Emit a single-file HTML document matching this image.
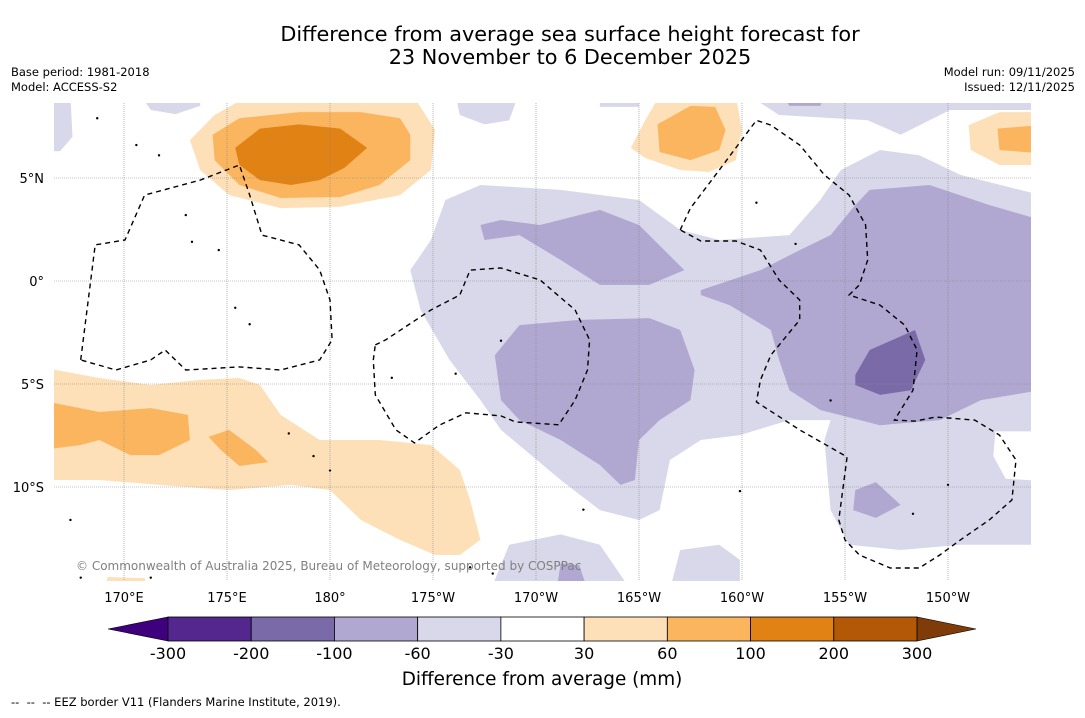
<!DOCTYPE html>
<html><head><meta charset="utf-8"><style>
body{margin:0;background:#fff;}
svg text{font-family:"DejaVu Sans","Liberation Sans",sans-serif;white-space:pre;}
</style></head><body>
<svg id="chart" width="1085" height="713" xmlns="http://www.w3.org/2000/svg">
<rect width="1085" height="713" fill="#fff"/>
<text x="570" y="41" font-size="20.8" text-anchor="middle">Difference from average sea surface height forecast for</text>
<text x="570" y="64" font-size="20.8" text-anchor="middle">23 November to 6 December 2025</text>
<text x="11" y="76" font-size="11.5">Base period: 1981-2018</text>
<text x="11" y="91" font-size="11.5">Model: ACCESS-S2</text>
<text x="1075" y="76" font-size="11.5" text-anchor="end">Model run: 09/11/2025</text>
<text x="1075" y="91" font-size="11.5" text-anchor="end">Issued: 12/11/2025</text>
<defs><clipPath id="mapclip"><rect x="54" y="103" width="977" height="478"/></clipPath></defs>
<g id="map" clip-path="url(#mapclip)"></g>
<g id="grid"></g>
<g id="eez" clip-path="url(#mapclip)"></g>
<g id="axes"></g>
<text x="76" y="570" font-size="12" fill="#808080">© Commonwealth of Australia 2025, Bureau of Meteorology, supported by COSPPac</text>
<g id="cbar"></g>
<text x="542" y="685" font-size="18.4" text-anchor="middle">Difference from average (mm)</text>
<text x="11" y="706" font-size="11.5">--  --  -- EEZ border V11 (Flanders Marine Institute, 2019).</text>
</svg>
<script>
const lonTicks=[170,175,180,185,190,195,200,205,210];
const lonLabels=["170°E","175°E","180°","175°W","170°W","165°W","160°W","155°W","150°W"];
const latTicks=[5,0,-5,-10];
const latLabels=["5°N","0°","5°S","10°S"];
const levels=[-300,-200,-100,-60,-30,30,60,100,200,300];
const levelColors=["#54278f","#7a6aa8","#b0a8d0","#d8d8ea","#ffffff","#fde0b8","#fbb55f","#e08214","#b35806"];
const contourLevels=[-45,-45,-45,-45,-45,-45,-45,-45,-80,-80,-80,-80,-80,-80,-150,45,80,150,45,80,45,80,45,80,80,45,0];
// contour fill polygons [lon(°E),lat]
const contours=[
[[166,9],[167.4,9],[167.5,7.0],[166.9,6.3],[166,6.3]],
[[184.9,1.99],[185.6,3.93],[187.3,4.66],[191.2,4.42],[195,3.93],[197,2.48],[198.9,1.99],[202.3,2.23],[203.8,3.93],[204.8,5.39],[206.7,6.36],[208.6,6.1],[210.6,5.15],[214.5,4.17],[214.5,-12.8],[210.6,-12.8],[207.7,-13.06],[205.2,-12.8],[204.3,-11.12],[204,-7.72],[204.3,-6.75],[202.3,-6.75],[199.9,-7.48],[198,-7.72],[196.5,-8.69],[196,-11.12],[195,-11.6],[193.1,-11.12],[191.2,-9.66],[188.3,-7.23],[187.3,-5.78],[185.8,-3.83],[184.4,-1.41],[183.9,0.53]],
[[200.9,9],[200.9,8.64],[201.8,8.06],[206.1,7.8],[207.7,7.1],[210.1,8.3],[214.5,8.3],[214.5,9]],
[[186.1,9],[186.3,8.06],[187.5,7.6],[188.7,7.8],[189.0,8.64],[189.0,9]],
[[170.8,9],[171.3,8.3],[172.5,8.1],[173.7,8.5],[173.7,9]],
[[193.1,9],[193.1,8.45],[195,8.45],[195,9]],
[[187.8,-15],[188.7,-12.8],[191.2,-12.3],[193.1,-12.8],[194.6,-15]],
[[196.5,-15],[197,-13.06],[198.9,-12.8],[199.9,-13.54],[199.9,-15]],
[[187.3,2.72],[188.3,2.96],[190.2,2.72],[193.1,3.45],[195,2.72],[197.2,0.53],[195.5,-0.19],[193.1,-0.19],[191.2,1.02],[189.2,2.23],[187.5,1.99]],
[[188,-3.6],[189.2,-2.14],[192.1,-1.89],[195.5,-1.8],[197,-2.38],[197.7,-4.32],[197.5,-5.78],[196,-6.75],[195,-7.72],[194.8,-9.66],[194.1,-9.9],[193.1,-8.93],[191.2,-7.72],[189.2,-6.75],[188.3,-5.78]],
[[198,-0.44],[200.9,0.53],[202.8,1.5],[204.3,2.23],[205.5,3.69],[206.2,4.42],[209.1,4.66],[212,3.69],[214.5,2.96],[214.5,-5.3],[211.6,-5.78],[209.6,-6.75],[206.7,-7.0],[203.8,-6.26],[202.3,-5.3],[201.8,-3.83],[201.4,-2.38],[199.4,-1.17],[198,-0.68]],
[[205.5,-10.15],[206.5,-9.76],[207.7,-10.87],[206.5,-11.5],[205.4,-11.12]],
[[191,-15],[191.2,-13.7],[192.1,-13.8],[192.5,-15]],
[[202,9],[202.3,8.5],[203.8,8.5],[204,9]],
[[205.5,-4.56],[206.2,-3.35],[208.4,-2.38],[208.9,-3.83],[208.2,-5.3],[206.7,-5.53],[205.5,-5.05]],
[[173.2,6.84],[174.4,8.06],[175.9,8.9],[184.1,8.9],[185.1,7.33],[184.9,5.39],[183.4,4.17],[180.5,3.6],[177.6,3.54],[175.1,4.17],[173.7,5.39]],
[[174.3,7.1],[175.6,7.9],[178.5,8.2],[181.5,8.2],[183.4,7.9],[183.9,7.1],[183.9,5.87],[182.4,4.66],[180.5,4.08],[177.6,4.03],[175.6,4.66],[174.4,5.87]],
[[175.4,6.46],[176.6,7.4],[178.5,7.6],[180.5,7.4],[181.8,6.46],[180.7,5.49],[179.5,4.9],[178.1,4.66],[176.6,4.9],[175.6,5.63]],
[[194.6,6.46],[195.3,7.8],[196,9],[199.7,9],[200,7.33],[199.7,5.87],[198.4,5.29],[197,5.39],[195.3,5.97]],
[[195.9,7.6],[197.5,8.5],[198.7,8.45],[199.2,7.33],[198.9,6.36],[197.5,5.87],[196,6.26]],
[[211,7.57],[212.5,8.2],[214.5,8.2],[214.5,5.63],[212.5,5.63],[211.1,6.36]],
[[212.4,7.4],[214.5,7.57],[214.5,6.2],[212.5,6.36]],
[[166,-4.2],[168.8,-4.71],[171.3,-5.05],[173.7,-4.8],[175.6,-4.71],[176.6,-5.05],[177.6,-6.5],[179.5,-7.72],[182.4,-7.72],[184.9,-7.96],[186.3,-9.17],[186.8,-10.63],[187.3,-12.57],[186.3,-13.3],[185.1,-13.3],[183.4,-12.57],[181.5,-11.6],[180,-10.15],[178.1,-9.9],[175.1,-10.15],[171.7,-9.9],[168.8,-9.66],[166,-9.66]],
[[166,-5.8],[168.8,-6.36],[171.3,-6.17],[173.1,-6.5],[173.2,-7.72],[171.7,-8.45],[170.3,-8.45],[168.8,-7.72],[167.9,-7.96],[166,-8.2]],
[[174.1,-7.57],[175.1,-7.23],[176.4,-8.2],[177,-8.79],[175.6,-8.98],[174.7,-8.2]],
[[169.1,-15],[169.2,-14.37],[171,-14.42],[171.2,-15]],
[[212.3,-7.3],[214.5,-7.3],[214.5,-9.7],[212.8,-9.6],[212.2,-8.5]]
];
const eezLines=[
[[167.9,-3.83],[168.6,1.75],[170.05,1.99],[171,4.17],[173.7,4.9],[175.6,5.63],[176.1,4.17],[176.7,2.23],[178.5,1.75],[179.5,0.53],[180,-0.92],[180.1,-2.86],[179.5,-3.83],[177.6,-4.32],[175.6,-4.17],[173,-4.32],[172,-3.35],[171.3,-3.83],[169.6,-4.32],[167.9,-3.83]],
[[182.2,-3.1],[182.7,-2.86],[184.9,-1.41],[186.3,-0.68],[186.8,0.53],[188.3,0.63],[190.2,0.05],[191.9,-1.41],[192.6,-2.86],[192.5,-4.32],[191.9,-5.78],[191.1,-6.98],[189,-6.84],[188.3,-6.55],[186.6,-6.4],[185.3,-7.0],[184.1,-7.86],[183.2,-7.23],[182.2,-5.53],[182.1,-3.83],[182.2,-3.1]],
[[197,2.48],[197.5,3.54],[198.9,5.39],[200.7,7.8],[201.4,7.57],[202.8,6.6],[204,5.15],[205.2,4.17],[206,2.72],[206.1,1.02],[205.7,-0.19],[205.2,-0.68],[206.7,-1.17],[207.9,-2.14],[208.5,-3.35],[208.3,-5.3],[207.4,-6.75],[208.4,-6.8],[209.4,-6.6],[211.3,-6.75],[212.5,-7.48],[213.3,-8.69],[213.1,-10.63],[212,-11.6],[210.6,-12.57],[209.6,-13.3],[208.6,-13.93],[207.2,-13.93],[205.7,-13.3],[205,-12.57],[204.7,-11.6],[205.1,-8.54],[202.8,-7.23],[200.7,-5.87],[200.9,-4.8],[201.4,-3.6],[202.8,-1.89],[202.8,-0.92],[201.8,0.05],[200.9,1.5],[199.7,1.94],[198,1.94],[197,2.48]]
];
const islands=[[168.7,7.9],[170.6,6.6],[171.7,6.1],[173,3.2],[173.3,1.9],[174.6,1.5],[175.4,-1.3],[176.1,-2.1],[178,-7.4],[179.2,-8.5],[180,-9.2],[183,-4.7],[186.1,-4.5],[188.3,-2.9],[192.3,-11.1],[199.9,-10.2],[200.7,3.8],[202.6,1.8],[204.3,-5.8],[208.3,-11.3],[210,-9.9],[167.4,-11.6],[167.9,-14.4],[171.3,-14.4],[186.8,-13.9],[187.9,-14.2]];

const NS='http://www.w3.org/2000/svg';
const X0=54,X1=1031,Y0=103,Y1=581;
const xs=lon=>124+(lon-170)*20.6;
const ys=lat=>281-lat*20.6;
const colorFor=v=>{for(let i=0;i<levels.length-1;i++){if(v>=levels[i]&&v<levels[i+1])return levelColors[i];}return levelColors[levelColors.length-1];};
const pts=poly=>poly.map(p=>xs(p[0]).toFixed(1)+','+ys(p[1]).toFixed(1)).join(' ');
const map=document.getElementById('map');
contours.forEach((poly,i)=>{
  const p=document.createElementNS(NS,'polygon');
  p.setAttribute('points',pts(poly));
  p.setAttribute('fill',colorFor(contourLevels[i]));
  
  
  map.appendChild(p);
});
islands.forEach(d=>{
  const c=document.createElementNS(NS,'circle');
  c.setAttribute('cx',xs(d[0]));c.setAttribute('cy',ys(d[1]));c.setAttribute('r',1.2);c.setAttribute('fill','#000');
  
  
  map.appendChild(c);
});
const grid=document.getElementById('grid');
lonTicks.forEach(l=>{
  const ln=document.createElementNS(NS,'line');
  ln.setAttribute('x1',xs(l));ln.setAttribute('x2',xs(l));ln.setAttribute('y1',Y0);ln.setAttribute('y2',Y1);
  ln.setAttribute('stroke','#888');ln.setAttribute('stroke-width','0.6');ln.setAttribute('stroke-dasharray','1,1');
  
  
  grid.appendChild(ln);
});
latTicks.forEach(l=>{
  const ln=document.createElementNS(NS,'line');
  ln.setAttribute('x1',X0);ln.setAttribute('x2',X1);ln.setAttribute('y1',ys(l));ln.setAttribute('y2',ys(l));
  ln.setAttribute('stroke','#888');ln.setAttribute('stroke-width','0.6');ln.setAttribute('stroke-dasharray','1,1');
  
  
  grid.appendChild(ln);
});
const eez=document.getElementById('eez');
eezLines.forEach(line=>{
  const p=document.createElementNS(NS,'polyline');
  p.setAttribute('points',pts(line));p.setAttribute('fill','none');p.setAttribute('stroke','#000');
  p.setAttribute('stroke-width','1.4');p.setAttribute('stroke-dasharray','5,4');
  
  
  eez.appendChild(p);
});
const axes=document.getElementById('axes');
lonTicks.forEach((l,i)=>{
  const t=document.createElementNS(NS,'text');
  t.setAttribute('x',xs(l));t.setAttribute('y',602);t.setAttribute('font-size','13');t.setAttribute('text-anchor','middle');
  t.textContent=lonLabels[i];
  
  
  axes.appendChild(t);
});
latTicks.forEach((l,i)=>{
  const t=document.createElementNS(NS,'text');
  t.setAttribute('x',44);t.setAttribute('y',ys(l)+5);t.setAttribute('font-size','13');t.setAttribute('text-anchor','end');
  t.textContent=latLabels[i];
  
  
  axes.appendChild(t);
});
// colorbar
const cb=document.getElementById('cbar');
const CB0=168,CB1=917,CBY=617,CBH=24,n=levelColors.length,bw=(CB1-CB0)/n;
const la=document.createElementNS(NS,'polygon');
la.setAttribute('points',`${CB0},${CBY} ${CB0},${CBY+CBH} 108,${CBY+CBH/2}`);la.setAttribute('fill','#3f007d');la.setAttribute('stroke','#000');la.setAttribute('stroke-width','0.6');


cb.appendChild(la);
const ra=document.createElementNS(NS,'polygon');
ra.setAttribute('points',`${CB1},${CBY} ${CB1},${CBY+CBH} 976,${CBY+CBH/2}`);ra.setAttribute('fill','#7f3b08');ra.setAttribute('stroke','#000');ra.setAttribute('stroke-width','0.6');


cb.appendChild(ra);
levelColors.forEach((c,i)=>{
  const r=document.createElementNS(NS,'rect');
  r.setAttribute('x',CB0+i*bw);r.setAttribute('y',CBY);r.setAttribute('width',bw);r.setAttribute('height',CBH);
  r.setAttribute('fill',c);r.setAttribute('stroke','#000');r.setAttribute('stroke-width','0.8');
  
  
  cb.appendChild(r);
});
levels.forEach((v,i)=>{
  const t=document.createElementNS(NS,'text');
  t.setAttribute('x',CB0+i*bw);t.setAttribute('y',659);t.setAttribute('font-size','16');t.setAttribute('text-anchor','middle');
  t.textContent=v;
  
  
  cb.appendChild(t);
});
</script>
</body></html>
